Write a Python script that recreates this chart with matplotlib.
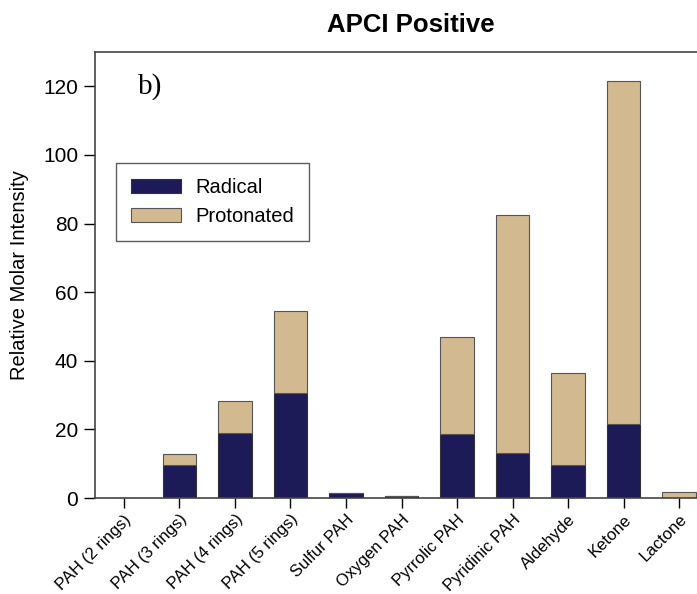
import matplotlib
matplotlib.use("Agg")
import matplotlib.pyplot as plt
import numpy as np

categories = ["PAH (2 rings)", "PAH (3 rings)", "PAH (4 rings)", "PAH (5 rings)",
              "Sulfur PAH", "Oxygen PAH", "Pyrrolic PAH", "Pyridinic PAH",
              "Aldehyde", "Ketone", "Lactone"]
radical = [0, 9.6, 19.0, 30.6, 1.5, 0.5, 18.6, 13.1, 9.6, 21.6, 0]
total = [0, 12.8, 28.3, 54.6, 1.5, 0.5, 47.0, 82.6, 36.5, 121.5, 1.8]
protonated = [t - r for t, r in zip(total, radical)]
yticks = [0, 20, 40, 60, 80, 100, 120]

plt.rcParams['font.family'] = ['Liberation Sans', 'DejaVu Sans']

W, H = 697, 594
fig = plt.figure(figsize=(W / 100, H / 100), dpi=100)
# axes spans x 95..708 px, y 52..498 px
ax = fig.add_axes([95 / W, 1 - 498 / H, (708 - 95) / W, (498 - 52) / H])

x = np.arange(len(categories))
navy = "#1c1a57"
tan = "#d3b98f"
ax.bar(x, radical, width=0.6, color=navy, edgecolor="#333333", linewidth=0.8, label="Radical")
ax.bar(x, protonated, width=0.6, bottom=radical, color=tan, edgecolor="#555555", linewidth=0.8,
       label="Protonated")

ax.set_xlim(-0.52, len(categories) - 0.48)
ax.set_ylim(0, 130)
ax.set_yticks(yticks)
ax.set_yticklabels([str(v) for v in yticks], fontsize=15)
ax.set_xticks(x)
ax.set_xticklabels(categories, rotation=45, ha="right", rotation_mode="anchor", fontsize=12)
ax.tick_params(axis="y", direction="out", length=8, width=1, pad=4)
ax.tick_params(axis="x", direction="out", length=7, width=1, pad=3)
for s in ax.spines.values():
    s.set_color("#444444")
    s.set_linewidth(1.2)
ax.spines["right"].set_visible(False)

ax.set_ylabel("Relative Molar Intensity", fontsize=14.5, labelpad=10)

fig.text(411 / W, 1 - 25 / H, "APCI Positive", fontsize=18.5, fontweight="bold",
         ha="center", va="center")
ax.text(150 / W, 1 - 87 / H, "b)", transform=fig.transFigure, fontsize=21,
        family="Liberation Serif", ha="center", va="center")

leg = ax.legend(loc="upper left", bbox_to_anchor=((116 - 95) / (708 - 95), (498 - 163) / (498 - 52)),
                fontsize=14.5, frameon=True, fancybox=False, edgecolor="#333333",
                handlelength=2.5, handleheight=0.65, borderpad=0.75, labelspacing=0.5,
                handletextpad=0.7, borderaxespad=0)
leg.get_frame().set_linewidth(1.0)

fig.savefig("out.png", dpi=100)
